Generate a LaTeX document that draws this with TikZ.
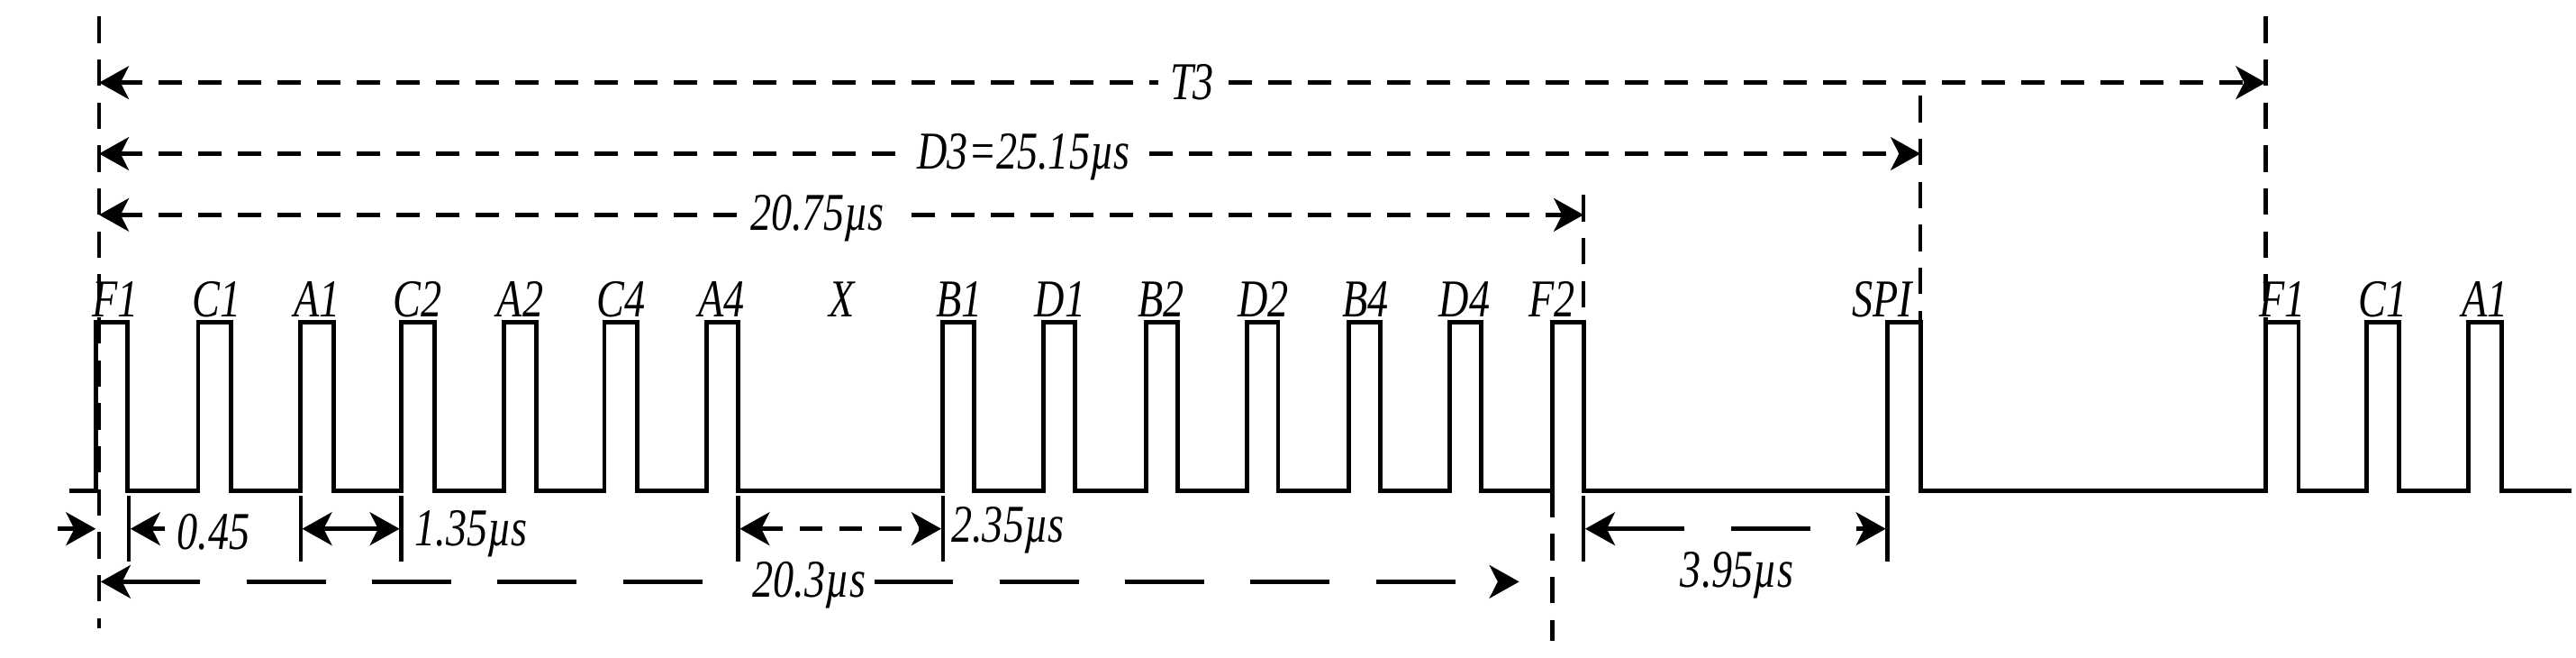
\documentclass[tikz,border=0pt]{standalone}
\usepackage{fontspec}
\setmainfont{Liberation Serif}
\usetikzlibrary{arrows.meta}
\begin{document}
\begin{tikzpicture}[x=0.5pt,y=-0.5pt,
  sig/.style={line width=1.3pt},
  dimv/.style={line width=1.2pt,dash pattern=on 8pt off 5pt},
  ah/.tip={Stealth[length=9pt,width=10pt,inset=2.5pt]},
  dim/.style={line width=1.3pt,dash pattern=on 7pt off 5pt,arrows={ah-ah}},
  lab/.style={font=\fontsize{14}{14}\selectfont\itshape,inner sep=1pt,yscale=1.15,xscale=0.9},
  tick/.style={line width=1.1pt}]
\useasboundingbox (0,0) rectangle (1560,398);
% waveform
\draw[sig] (42,297) -- (58,297)
  \foreach \a/\b in {58/77,120/140,182/202,243/263,305/325,366/386,428/447,571/590,632/651,694/713,755/774,817/836,878/897,940/959,1143/1163,1372/1392,1433/1453,1495/1515}{ -- (\a,297) -- (\a,195) -- (\b,195) -- (\b,297)} -- (1557,297);
% pulse labels
\foreach \x/\t in {70/F1,131/C1,192/A1,253/C2,315/A2,376/C4,437/A4,510/X,581/B1,642/D1,703/B2,765/D2,827/B4,887/D4,940/F2,1140/SPI,1382/F1,1443/C1,1505/A1}
  \node[lab] (l\t\x) at (\x,181) {\t};
% vertical dashed lines
\draw[dimv] (60,10) -- (60,380);
\draw[dimv] (959,118) -- (959,195);
\draw[dimv] (940,297) -- (940,388);
\draw[dimv] (1163,58) -- (1163,195);
\draw[dimv] (1372,10) -- (1372,195);
% top dimensions
\coordinate (t0) at (60,50); \coordinate (t1) at (1372,50);
\draw[dim] (t0) -- (t1);
\node[lab,fill=white,inner sep=4pt] (T3) at (722,50) {T3};
\coordinate (d0) at (60,93); \coordinate (d1) at (1163,93);
\draw[dim] (d0) -- (d1);
\node[lab,fill=white,inner sep=4pt] (D3) at (620,95) {D3=25.15\textmu s};
\coordinate (e0) at (60,130); \coordinate (e1) at (959,130);
\draw[dim] (e0) -- (e1);
\node[lab,fill=white,inner sep=4pt] (E) at (495,132) {20.75\textmu s};
% bottom ticks
\foreach \x in {78,182,243,447,571,959,1143}
  \draw[tick] (\x,300) -- (\x,340);
% bottom dimensions
\draw[line width=1.3pt,-ah] (35,320) -- (58,320);
\draw[line width=1.3pt,-ah] (100,320) -- (79,320);
\node[lab,anchor=west] (n045) at (105,322) {0.45};
\draw[line width=1.3pt,ah-ah] (183,320) -- (242,320);
\node[lab,anchor=west] (n135) at (249,323) {1.35\textmu s};
\draw[dim] (448,320) -- (570,320);
\node[lab,anchor=west] (n235) at (574,321) {2.35\textmu s};
\draw[dim,dash pattern=on 24pt off 14pt] (960,320) -- (1142,320);
\node[lab] (n395) at (1052,348) {3.95\textmu s};
\draw[dim,dash pattern=on 24pt off 14pt] (61,352) -- (920,352);
\node[lab,fill=white,inner sep=3pt] (n203) at (490,354) {20.3\textmu s};
\end{tikzpicture}
\end{document}
